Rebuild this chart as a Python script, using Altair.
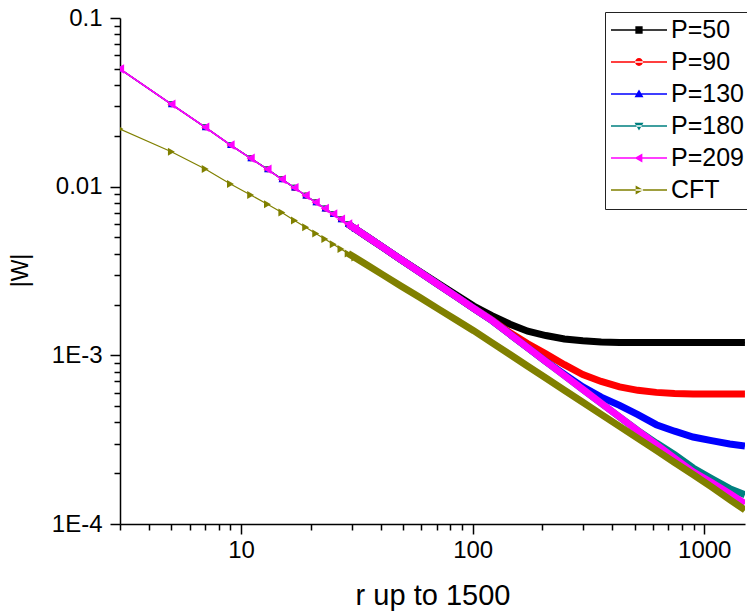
import altair as alt
import pandas as pd

# ---------------- data ----------------
r_vals = [3, 5, 7, 9, 11, 13, 15, 17, 19, 21, 23, 25, 27, 29, 31, 35, 41, 49, 59, 71,
          85, 101, 121, 145, 173, 207, 249, 299, 359, 431, 517, 621, 745, 895, 1075, 1289, 1499]

w_p50 = [0.0499, 0.0308, 0.0225, 0.01766, 0.01472, 0.01267, 0.01106, 0.00987, 0.00885, 0.00807,
         0.00742, 0.00688, 0.00640, 0.00600, 0.00564, 0.00505, 0.00436, 0.00370, 0.00314, 0.00267,
         0.00228, 0.00196, 0.00172, 0.00153, 0.00139, 0.00131, 0.00125, 0.00122, 0.00120, 0.00119,
         0.00119, 0.00119, 0.00119, 0.00119, 0.00119, 0.00119, 0.00119]

w_p90 = [0.0499, 0.0308, 0.0225, 0.01766, 0.01472, 0.01267, 0.01106, 0.00987, 0.00885, 0.00807,
         0.00742, 0.00688, 0.00640, 0.00600, 0.00564, 0.00505, 0.00436, 0.00370, 0.00312, 0.00263,
         0.00223, 0.00190, 0.00162, 0.00136, 0.00117, 0.00102, 0.00088, 0.00077, 0.00070, 0.00065,
         0.00062, 0.000603, 0.000594, 0.00059, 0.00059, 0.00059, 0.00059]

w_p130 = [0.0499, 0.0308, 0.0225, 0.01766, 0.01472, 0.01267, 0.01106, 0.00987, 0.00885, 0.00807,
          0.00742, 0.00688, 0.00640, 0.00600, 0.00564, 0.00505, 0.00436, 0.00370, 0.00312, 0.00263,
          0.00223, 0.00190, 0.00161, 0.001333, 0.00111, 0.00092, 0.00077, 0.00065, 0.000565, 0.000505,
          0.000445, 0.000388, 0.000355, 0.000328, 0.000312, 0.000298, 0.00029]

w_p180 = [0.0499, 0.0308, 0.0225, 0.01766, 0.01472, 0.01267, 0.01106, 0.00987, 0.00885, 0.00807,
          0.00742, 0.00688, 0.00640, 0.00600, 0.00564, 0.00505, 0.00436, 0.00370, 0.00312, 0.00263,
          0.00223, 0.00190, 0.00161, 0.001333, 0.00111, 0.00092, 0.00076, 0.000628, 0.00052, 0.000431,
          0.000358, 0.000302, 0.000258, 0.000215, 0.000186, 0.000162, 0.000149]

w_p209 = [0.0499, 0.0308, 0.0225, 0.01766, 0.01472, 0.01267, 0.01106, 0.00987, 0.00885, 0.00807,
          0.00742, 0.00688, 0.00640, 0.00600, 0.00564, 0.00505, 0.00436, 0.00370, 0.00312, 0.00263,
          0.00223, 0.00190, 0.00161, 0.001333, 0.00111, 0.00092, 0.00076, 0.000628, 0.00052, 0.000431,
          0.000357, 0.000296, 0.000245, 0.000204, 0.000176, 0.000151, 0.000132]

w_cft = [0.02198, 0.01612, 0.01274, 0.01038, 0.00893, 0.00787, 0.00702, 0.00631, 0.00574, 0.00528,
         0.00489, 0.00456, 0.00427, 0.00402, 0.00380, 0.00343, 0.00300, 0.00258, 0.00221, 0.001886,
         0.00162, 0.00140, 0.00119, 0.001011, 0.000862, 0.000734, 0.000621, 0.000527, 0.000447, 0.000379,
         0.000322, 0.000273, 0.0002317, 0.0001965, 0.000166, 0.0001396, 0.0001211]

series_names = ["P=50", "P=90", "P=130", "P=180", "P=209", "CFT"]
series_values = [w_p50, w_p90, w_p130, w_p180, w_p209, w_cft]

x_major_ticks = [10, 100, 1000]
x_minor_ticks = [3, 4, 5, 6, 7, 8, 9, 20, 30, 40, 50, 60, 70, 80, 90,
                 200, 300, 400, 500, 600, 700, 800, 900]
y_major_ticks = [0.0001, 0.001, 0.01, 0.1]
y_minor_ticks = [0.0002, 0.0003, 0.0004, 0.0005, 0.0006, 0.0007, 0.0008, 0.0009,
                 0.002, 0.003, 0.004, 0.005, 0.006, 0.007, 0.008, 0.009,
                 0.02, 0.03, 0.04, 0.05, 0.06, 0.07, 0.08, 0.09]

# ---------------- styles ----------------
series_colors = ["#000000", "#FF0000", "#0000FF", "#008080", "#FF00FF", "#808000"]
marker_shapes = ["square", "circle", "triangle-up", "triangle-down", "triangle-left", "triangle-right"]
marker_sizes = [30, 36, 45, 45, 90, 64]
seg = "M-1,-0.028H1V0.028H-1Z"
legend_paths = [
    seg + "M-0.13,-0.13H0.13V0.13H-0.13Z",
    seg + "M-0.14,0A0.14,0.14 0 1,0 0.14,0A0.14,0.14 0 1,0 -0.14,0Z",
    seg + "M0,-0.16L0.16,0.12L-0.16,0.12Z",
    seg + "M0,0.16L0.16,-0.12L-0.16,-0.12Z",
    seg + "M-0.16,0L0.12,-0.16L0.12,0.16Z",
    seg + "M0.16,0L-0.12,-0.16L-0.12,0.16Z",
]
FONT = "Liberation Sans"

rows = []
for name, vals in zip(series_names, series_values):
    for r, w in zip(r_vals, vals):
        rows.append({"series": name, "r": r, "w": w})
df = pd.DataFrame(rows)

x_scale = alt.Scale(type="log", domain=[3, 1500], nice=False)
y_scale = alt.Scale(type="log", domain=[0.0001, 0.1], nice=False)

x_major = alt.Axis(orient="bottom", values=x_major_ticks, format="d", grid=False,
                   tickSize=10, tickWidth=1.5, tickColor="black",
                   domainWidth=1.5, domainColor="black",
                   labelFont=FONT, labelFontSize=24, labelColor="black", labelPadding=4,
                   title="r up to 1500", titleFont=FONT, titleFontSize=29,
                   titleFontWeight="normal", titleColor="black", titlePadding=19)
x_minor = alt.Axis(orient="bottom", values=x_minor_ticks, grid=False, labels=False, domain=False,
                   tickSize=6, tickWidth=1.5, tickColor="black", title="")
y_major = alt.Axis(orient="left", values=y_major_ticks, grid=False,
                   labelExpr="datum.value > 0.05 ? '0.1' : datum.value > 0.005 ? '0.01' : datum.value > 0.0005 ? '1E-3' : '1E-4'",
                   tickSize=10, tickWidth=1.5, tickColor="black",
                   domainWidth=1.5, domainColor="black",
                   labelFont=FONT, labelFontSize=24, labelColor="black", labelPadding=8,
                   title="|W|", titleFont=FONT, titleFontSize=23, titleFontWeight="normal",
                   titleColor="black", titleX=-100, titleY=252, titleAlign="center", titleBaseline="middle")
y_minor = alt.Axis(orient="left", values=y_minor_ticks, grid=False, labels=False, domain=False,
                   tickSize=6, tickWidth=1.5, tickColor="black", title="")

leg = alt.Legend(orient="none", legendX=485, legendY=-6, padding=6,
                 strokeColor="#222222", fillColor="white",
                 symbolSize=3136, symbolStrokeWidth=0, symbolOpacity=1,
                 clipHeight=24, rowPadding=7, labelOffset=4,
                 labelFont=FONT, labelFontSize=25, labelColor="black", labelLimit=300)

base = alt.Chart(df)


def xy(x_axis=None, y_axis=None):
    return dict(
        x=alt.X("r:Q", scale=x_scale, axis=x_axis),
        y=alt.Y("w:Q", scale=y_scale, axis=y_axis),
    )


layers = []
# axes carriers (major and minor ticks)
layers.append(base.transform_filter("datum.r < 0").mark_point(opacity=0).encode(**xy(x_major, y_major)))
layers.append(base.transform_filter("datum.r < 0").mark_point(opacity=0).encode(**xy(x_minor, y_minor)))

# one set of marks per series, drawn in legend order (CFT last, on top)
for name, col, shp, msz in zip(series_names, series_colors, marker_shapes, marker_sizes):
    sel = base.transform_filter(alt.datum.series == name)
    lw = 1.6 if name == "P=209" else 1.2
    layers.append(sel.mark_line(color=col, strokeWidth=lw, clip=True).encode(**xy()))
    layers.append(sel.transform_filter("datum.r <= 31").mark_point(
        color=col, fill=col, filled=True, shape=shp, size=msz, opacity=1, clip=True).encode(**xy()))
    layers.append(sel.transform_filter("datum.r >= 29").mark_line(
        color=col, strokeWidth=7, clip=True).encode(**xy()))

# legend carrier (invisible points, legend shows line + marker symbols)
layers.append(base.transform_filter("datum.r == 3").mark_point(filled=True, opacity=0).encode(
    **xy(),
    color=alt.Color("series:N", scale=alt.Scale(domain=series_names, range=series_colors),
                    legend=leg, title=None),
    shape=alt.Shape("series:N", scale=alt.Scale(domain=series_names, range=legend_paths),
                    legend=leg, title=None),
))

chart = alt.layer(*layers).resolve_axis(
    x="independent", y="independent"
).properties(
    width=625, height=506,
    padding={"left": 120, "top": 18, "right": 2, "bottom": 90},
    autosize=alt.AutoSizeParams(type="none"),
    background="white",
).configure_view(stroke=None)

chart.save("out.html", embed_options={"renderer": "svg", "actions": False})
